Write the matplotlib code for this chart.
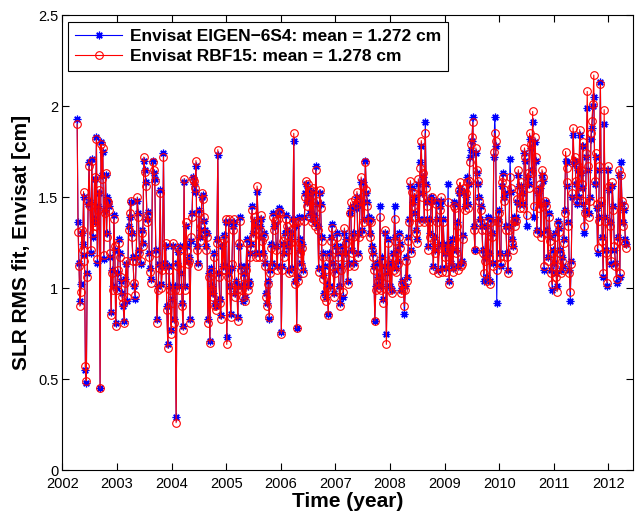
import numpy as np
import matplotlib
matplotlib.use("Agg")
import matplotlib.pyplot as plt

plt.rcParams['font.family'] = ['Liberation Sans', 'DejaVu Sans']

# ---- data: SLR RMS fit values (cm), grouped by year ----
seg_start = [2002.26, 2003.0, 2004.0, 2005.0, 2006.0, 2007.0, 2008.0, 2009.0, 2010.0, 2011.0, 2012.0]
seg_end   = [2003.0, 2004.0, 2005.0, 2006.0, 2007.0, 2008.0, 2009.0, 2010.0, 2011.0, 2012.0, 2012.34]

red_2002 = [1.90, 1.31, 1.12, 0.90, 0.98, 1.32, 1.21, 1.53, 1.15, 0.57, 0.49, 1.06, 1.48, 1.67, 1.45,
            1.21, 1.70, 1.30, 1.36, 1.61, 1.34, 1.82, 1.16, 1.43, 1.54, 0.45, 1.79, 1.60, 1.77, 1.18,
            1.41, 1.63, 1.28, 1.48, 1.47, 1.43, 1.19, 0.85, 1.08, 0.99, 1.38, 1.23, 0.79, 0.99]
blue_2002 = [1.93, 1.36, 1.14, 0.93, 1.02, 1.30, 1.24, 1.50, 1.18, 0.55, 0.48, 1.08, 1.46, 1.69, 1.47,
             1.19, 1.71, 1.28, 1.38, 1.60, 1.36, 1.83, 1.14, 1.45, 1.52, 0.45, 1.80, 1.62, 1.75, 1.16,
             1.43, 1.62, 1.30, 1.50, 1.48, 1.45, 1.17, 0.87, 1.10, 1.01, 1.40, 1.21, 0.81, 1.00]

red_2003 = [1.10, 1.25, 1.17, 1.06, 0.95, 0.92, 0.81, 1.03, 1.15, 0.95, 1.32, 1.41, 1.48, 1.28, 1.15,
            1.03, 0.96, 1.15, 1.50, 1.39, 1.19, 1.15, 1.30, 1.23, 1.72, 1.64, 1.56, 1.36, 1.40, 1.17,
            1.09, 1.03, 1.69, 1.65, 1.59, 1.19, 0.81, 0.99, 1.11, 1.52, 1.00, 1.10, 1.72, 1.12, 1.25,
            0.88, 0.67, 1.10, 0.99, 0.75]
blue_2003 = [1.08, 1.27, 1.19, 1.04, 0.97, 0.90, 0.82, 1.05, 1.13, 0.93, 1.34, 1.39, 1.47, 1.30, 1.17,
             1.01, 0.94, 1.17, 1.48, 1.41, 1.21, 1.13, 1.32, 1.25, 1.70, 1.65, 1.58, 1.38, 1.42, 1.19,
             1.11, 1.05, 1.70, 1.63, 1.60, 1.21, 0.83, 1.01, 1.13, 1.54, 1.02, 1.12, 1.74, 1.14, 1.23,
             0.90, 0.69, 1.12, 1.01, 0.77]

red_2004 = [0.92, 1.25, 0.81, 0.99, 0.26, 1.12, 1.22, 0.99, 1.21, 1.10, 0.90, 0.77, 1.60, 0.99, 1.36,
            1.21, 1.13, 1.15, 0.81, 1.28, 1.39, 1.60, 1.59, 1.55, 1.70, 1.21, 1.12, 1.41, 1.26, 1.34,
            1.52, 1.49, 1.39, 1.30, 1.21, 1.28, 0.81, 1.06, 0.70, 1.09, 0.99, 0.95, 1.17, 0.90, 0.88,
            1.25, 1.76, 1.06, 0.92, 0.83, 1.25, 1.10, 1.27, 1.10, 1.38]
blue_2004 = [0.94, 1.23, 0.83, 1.01, 0.29, 1.14, 1.20, 1.01, 1.23, 1.08, 0.92, 0.79, 1.58, 1.01, 1.34,
             1.23, 1.15, 1.17, 0.83, 1.26, 1.41, 1.61, 1.57, 1.53, 1.67, 1.23, 1.14, 1.43, 1.28, 1.32,
             1.50, 1.51, 1.37, 1.32, 1.23, 1.30, 0.83, 1.08, 0.71, 1.11, 1.01, 0.97, 1.19, 0.92, 0.90,
             1.27, 1.73, 1.08, 0.94, 0.85, 1.23, 1.12, 1.29, 1.12, 1.36]

red_2005 = [0.69, 1.06, 1.38, 0.99, 0.84, 1.13, 1.32, 1.38, 0.95, 1.02, 0.99, 0.82, 1.25, 1.37, 1.10,
            0.99, 0.95, 1.06, 0.93, 1.10, 1.25, 0.99, 1.02, 1.17, 1.22, 1.43, 1.28, 1.39, 1.32, 1.17,
            1.56, 1.36, 1.17, 1.32, 1.40, 1.26, 1.17, 1.28, 1.12, 0.95, 0.90, 1.02, 0.84, 1.08, 1.22,
            1.12, 1.39, 1.32, 1.37, 1.21, 1.10, 1.38, 1.42, 1.41]
blue_2005 = [0.73, 1.08, 1.36, 1.01, 0.86, 1.11, 1.34, 1.36, 0.97, 1.04, 1.01, 0.84, 1.23, 1.39, 1.12,
             1.01, 0.93, 1.08, 0.95, 1.12, 1.27, 1.01, 1.04, 1.19, 1.24, 1.45, 1.30, 1.37, 1.34, 1.19,
             1.53, 1.38, 1.19, 1.34, 1.38, 1.28, 1.19, 1.30, 1.14, 0.97, 0.92, 1.04, 0.83, 1.10, 1.24,
             1.14, 1.41, 1.34, 1.35, 1.23, 1.12, 1.40, 1.44, 1.43]

red_2006 = [0.75, 1.10, 1.26, 1.17, 1.28, 1.38, 1.34, 1.21, 1.08, 1.25, 1.32, 1.09, 1.36, 1.85, 1.02,
            1.36, 0.78, 1.04, 1.37, 1.19, 1.25, 1.12, 1.22, 1.08, 1.37, 1.50, 1.59, 1.45, 1.57, 1.48,
            1.39, 1.54, 1.36, 1.55, 1.38, 1.34, 1.65, 1.48, 1.32, 1.09, 1.54, 1.44, 1.26, 1.05, 1.17,
            0.95, 1.10, 0.93, 1.00, 0.85, 1.17, 0.99, 1.26, 1.33, 1.12, 0.95, 1.08]
blue_2006 = [0.76, 1.12, 1.24, 1.19, 1.30, 1.40, 1.32, 1.23, 1.10, 1.27, 1.30, 1.11, 1.38, 1.81, 1.04,
             1.34, 0.78, 1.06, 1.39, 1.21, 1.27, 1.14, 1.24, 1.10, 1.39, 1.52, 1.57, 1.47, 1.55, 1.50,
             1.41, 1.52, 1.38, 1.53, 1.40, 1.36, 1.67, 1.46, 1.34, 1.11, 1.52, 1.46, 1.28, 1.07, 1.19,
             0.97, 1.12, 0.95, 1.02, 0.86, 1.19, 1.01, 1.28, 1.35, 1.14, 0.97, 1.10]

red_2007 = [1.21, 1.28, 1.17, 0.99, 0.90, 1.10, 1.21, 0.98, 1.33, 1.17, 1.25, 1.02, 1.12, 1.41, 1.47,
            1.19, 1.28, 1.12, 1.49, 1.46, 1.53, 1.17, 1.28, 1.48, 1.61, 1.30, 1.56, 1.36, 1.69, 1.54,
            1.45, 1.37, 1.28, 1.36, 1.21, 1.17, 1.10, 0.82, 0.99, 1.12, 1.04, 1.00, 1.39, 0.99, 1.15,
            0.92, 1.10, 1.32, 0.69, 1.06, 1.25, 0.99]
blue_2007 = [1.23, 1.30, 1.19, 1.01, 0.92, 1.12, 1.23, 0.95, 1.30, 1.19, 1.27, 1.04, 1.14, 1.41, 1.44,
             1.21, 1.30, 1.14, 1.46, 1.44, 1.50, 1.19, 1.30, 1.46, 1.58, 1.32, 1.58, 1.38, 1.70, 1.52,
             1.47, 1.39, 1.30, 1.38, 1.23, 1.19, 1.12, 0.82, 1.01, 1.14, 1.06, 1.02, 1.45, 1.01, 1.17,
             0.94, 1.12, 1.30, 0.75, 1.08, 1.27, 1.01]

red_2008 = [1.12, 0.97, 1.17, 1.10, 1.38, 1.26, 1.09, 1.19, 1.13, 1.28, 1.22, 0.97, 1.02, 0.99, 0.90,
            0.99, 1.15, 1.04, 1.26, 1.36, 1.59, 1.19, 1.53, 1.45, 1.52, 1.39, 1.30, 1.25, 1.60, 1.36,
            1.66, 1.81, 1.50, 1.63, 1.36, 1.85, 1.55, 1.45, 1.21, 1.36, 1.28, 1.48, 1.50, 1.10, 1.26,
            1.19, 1.46, 1.36, 1.08, 1.22, 1.43, 1.50, 1.09, 1.36, 1.22]
blue_2008 = [1.14, 0.99, 1.19, 1.12, 1.45, 1.28, 1.11, 1.21, 1.15, 1.30, 1.24, 0.99, 1.04, 1.01, 0.86,
             1.01, 1.17, 1.06, 1.28, 1.38, 1.56, 1.21, 1.55, 1.47, 1.50, 1.41, 1.32, 1.27, 1.57, 1.38,
             1.69, 1.78, 1.52, 1.61, 1.38, 1.91, 1.57, 1.47, 1.23, 1.38, 1.30, 1.50, 1.48, 1.12, 1.28,
             1.21, 1.48, 1.38, 1.10, 1.24, 1.45, 1.48, 1.11, 1.38, 1.24]

red_2009 = [1.17, 1.09, 1.21, 1.47, 1.02, 1.22, 1.12, 1.25, 1.09, 1.45, 1.44, 1.19, 1.34, 1.10, 1.54,
            1.58, 1.12, 1.13, 1.27, 1.55, 1.43, 1.52, 1.58, 1.44, 1.59, 1.69, 1.79, 1.83, 1.91, 1.32,
            1.21, 1.77, 1.65, 1.59, 1.48, 1.36, 1.43, 1.32, 1.19, 1.08, 1.15, 1.32, 1.04, 1.37, 1.17,
            1.02, 1.36, 1.28, 1.12, 1.75, 1.85, 1.81, 1.10, 1.36, 1.41]
blue_2009 = [1.19, 1.11, 1.23, 1.57, 1.04, 1.24, 1.14, 1.27, 1.11, 1.47, 1.46, 1.21, 1.36, 1.12, 1.52,
             1.55, 1.14, 1.15, 1.29, 1.53, 1.45, 1.50, 1.61, 1.46, 1.57, 1.72, 1.76, 1.81, 1.94, 1.34,
             1.21, 1.74, 1.63, 1.57, 1.50, 1.38, 1.45, 1.34, 1.21, 1.04, 1.17, 1.34, 1.06, 1.39, 1.19,
             1.04, 1.38, 1.30, 1.14, 1.72, 1.94, 1.78, 0.92, 1.38, 1.43]

red_2010 = [1.17, 1.14, 1.58, 1.61, 1.48, 1.54, 1.32, 1.17, 1.08, 1.32, 1.61, 1.55, 1.25, 1.21, 1.37,
            1.34, 1.37, 1.49, 1.65, 1.54, 1.44, 1.58, 1.50, 1.44, 1.77, 1.72, 1.40, 1.63, 1.55, 1.85,
            1.79, 1.63, 1.97, 1.45, 1.83, 1.72, 1.30, 1.54, 1.44, 1.57, 1.28, 1.65, 1.61, 1.12, 1.48,
            1.45, 1.30, 1.15, 1.39, 1.26, 1.08, 1.02, 1.19]
blue_2010 = [1.19, 1.12, 1.56, 1.63, 1.50, 1.52, 1.34, 1.19, 1.10, 1.34, 1.71, 1.53, 1.27, 1.23, 1.39,
             1.36, 1.39, 1.47, 1.62, 1.56, 1.46, 1.56, 1.52, 1.46, 1.74, 1.70, 1.34, 1.61, 1.57, 1.82,
             1.77, 1.65, 1.91, 1.39, 1.80, 1.70, 1.32, 1.52, 1.46, 1.55, 1.30, 1.62, 1.59, 1.10, 1.46,
             1.47, 1.32, 1.17, 1.41, 1.28, 1.10, 0.99, 1.21]

red_2011 = [1.12, 1.28, 1.06, 0.98, 1.35, 1.31, 1.19, 1.08, 1.15, 1.10, 1.25, 1.41, 1.75, 1.66, 1.58,
            1.34, 1.08, 0.98, 1.13, 1.52, 1.88, 1.70, 1.72, 1.59, 1.48, 1.67, 1.52, 1.87, 1.65, 1.57,
            1.80, 1.48, 1.34, 1.41, 1.74, 2.08, 1.67, 1.39, 1.48, 1.85, 1.92, 2.01, 2.17, 1.59, 1.74,
            1.46, 1.22, 1.37, 1.67, 2.12, 1.48, 1.26, 1.08, 1.98, 1.37, 1.19, 1.03, 1.67]
blue_2011 = [1.14, 1.30, 1.08, 1.01, 1.37, 1.33, 1.21, 1.10, 1.17, 1.12, 1.27, 1.43, 1.70, 1.69, 1.56,
             1.36, 1.10, 0.93, 1.15, 1.50, 1.84, 1.68, 1.70, 1.57, 1.46, 1.65, 1.50, 1.84, 1.63, 1.55,
             1.78, 1.46, 1.30, 1.43, 1.72, 1.99, 1.65, 1.41, 1.50, 1.82, 1.88, 2.00, 2.05, 1.57, 1.72,
             1.44, 1.19, 1.39, 1.65, 2.13, 1.46, 1.28, 1.06, 1.90, 1.39, 1.21, 1.01, 1.65]

red_2012 = [1.56, 1.34, 1.15, 1.58, 1.43, 1.23, 1.12, 1.05, 1.26, 1.65, 1.08, 1.62, 1.48, 1.34, 1.45,
            1.25, 1.22]
blue_2012 = [1.54, 1.36, 1.13, 1.56, 1.45, 1.21, 1.14, 1.03, 1.28, 1.62, 1.06, 1.69, 1.46, 1.36, 1.43,
             1.27, 1.24]

red_years = [red_2002, red_2003, red_2004, red_2005, red_2006, red_2007, red_2008,
             red_2009, red_2010, red_2011, red_2012]
blue_years = [blue_2002, blue_2003, blue_2004, blue_2005, blue_2006, blue_2007, blue_2008,
              blue_2009, blue_2010, blue_2011, blue_2012]

labels = ['Envisat EIGEN\u22126S4: mean = 1.272 cm', 'Envisat RBF15: mean = 1.278 cm']
xticks = list(range(2002, 2013))
yticks = [0, 0.5, 1, 1.5, 2, 2.5]


def build(series):
    ts, vs = [], []
    for s0, s1, vals in zip(seg_start, seg_end, series):
        n = len(vals)
        ts.append(s0 + (s1 - s0) * (np.arange(n) + 0.5) / n)
        vs.append(np.asarray(vals))
    return np.concatenate(ts), np.concatenate(vs)


tb, vb = build(blue_years)
tr, vr = build(red_years)

fig = plt.figure(figsize=(6.35, 5.16), dpi=100)
ax = fig.add_axes([0.0984, 0.0891, 0.8984, 0.8818])

ax.plot(tb, vb, color=(0, 0, 1), lw=0.8, marker=(8, 2, 0), ms=5.5, mew=0.9, label=labels[0])
ax.plot(tr, vr, color=(1, 0, 0), lw=0.8, marker='o', ms=5.5, mfc='none', mew=0.8, label=labels[1])

ax.set_xlim(2002, 2012.45)
ax.set_ylim(0, 2.5)
ax.set_xticks(xticks)
ax.set_xticklabels([str(x) for x in xticks])
ax.set_yticks(yticks)
ax.set_yticklabels(['0', '0.5', '1', '1.5', '2', '2.5'])
ax.tick_params(direction='in', top=True, right=True, length=5, width=0.8, labelsize=10.5)
ax.tick_params(axis='x', pad=5)
ax.tick_params(axis='y', pad=3)
for sp in ax.spines.values():
    sp.set_linewidth(0.8)

ax.set_xlabel('Time (year)', fontsize=15, fontweight='bold', labelpad=1)
ax.set_ylabel('SLR RMS fit, Envisat [cm]', fontsize=15, fontweight='bold', labelpad=5)

leg = ax.legend(loc='upper left', bbox_to_anchor=(0.01, 0.985), borderaxespad=0,
                prop={'weight': 'bold', 'size': 12.5}, fancybox=False, framealpha=1,
                edgecolor='black', handlelength=2.7, handletextpad=0.45,
                borderpad=0.4, labelspacing=0.3)
leg.get_frame().set_linewidth(0.8)

fig.savefig('out.png', dpi=100)
